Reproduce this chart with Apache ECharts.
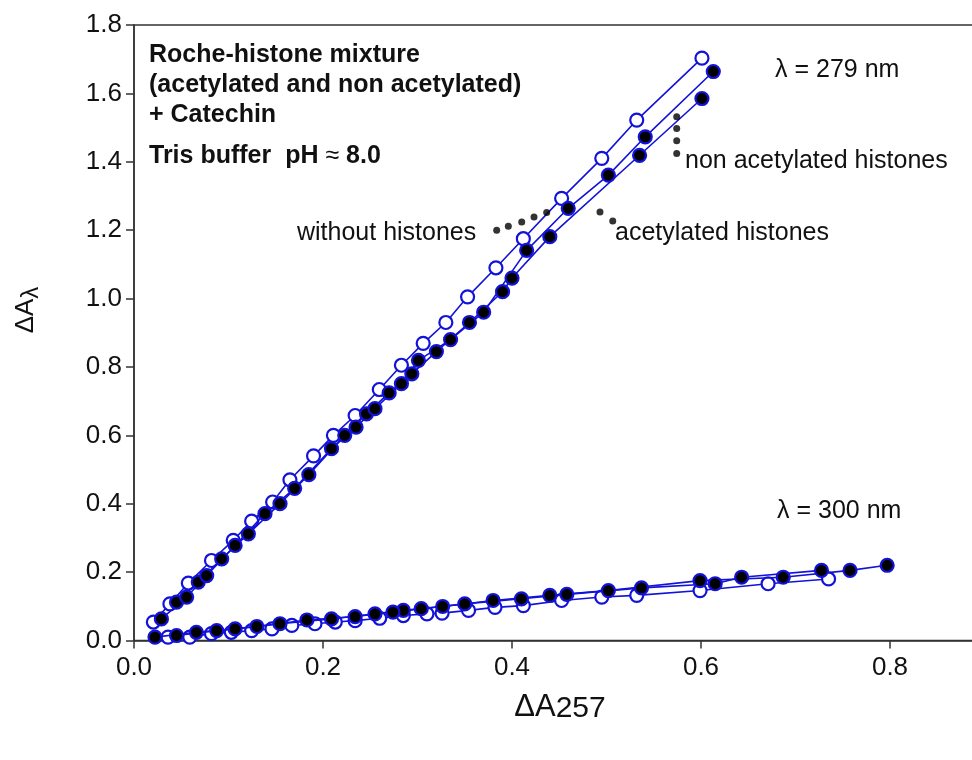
<!DOCTYPE html>
<html>
<head>
<meta charset="utf-8">
<script src="https://cdn.jsdelivr.net/npm/echarts@6/dist/echarts.min.js"></script>
<style>html,body{margin:0;padding:0;background:#fff;}#c{width:972px;height:760px;}</style>
</head>
<body>
<div id="c"></div>
<script>
// ---- data (x = ΔA257, y = ΔAλ) ----
var without279 = [[0.0205,0.054],[0.038,0.107],[0.0575,0.168],[0.082,0.234],[0.105,0.293],[0.1245,0.349],[0.1467,0.405],[0.165,0.47],[0.19,0.54],[0.211,0.600],[0.234,0.658],[0.2596,0.734],[0.283,0.805],[0.306,0.869],[0.33,0.93],[0.353,1.005],[0.383,1.09],[0.412,1.175],[0.4525,1.293],[0.495,1.41],[0.532,1.522],[0.601,1.703]];
var nonacet279 = [[0.029,0.063],[0.0557,0.127],[0.0769,0.19],[0.107,0.278],[0.1386,0.371],[0.17,0.445],[0.209,0.561],[0.235,0.624],[0.255,0.678],[0.283,0.751],[0.301,0.819],[0.335,0.88],[0.37,0.96],[0.4155,1.141],[0.4595,1.264],[0.502,1.361],[0.541,1.473],[0.613,1.664]];
var acet279 = [[0.045,0.112],[0.068,0.171],[0.0928,0.239],[0.121,0.312],[0.1545,0.40],[0.185,0.485],[0.223,0.600],[0.246,0.663],[0.270,0.724],[0.294,0.780],[0.32,0.845],[0.355,0.93],[0.39,1.02],[0.40,1.06],[0.440,1.181],[0.535,1.419],[0.601,1.585]];
var without300 = [[0.036,0.010],[0.059,0.010],[0.082,0.020],[0.103,0.024],[0.1245,0.029],[0.146,0.034],[0.167,0.044],[0.1915,0.049],[0.213,0.054],[0.234,0.058],[0.26,0.065],[0.285,0.073],[0.31,0.078],[0.326,0.080],[0.354,0.088],[0.382,0.097],[0.412,0.102],[0.4525,0.117],[0.495,0.127],[0.532,0.132],[0.599,0.146],[0.671,0.166],[0.735,0.18]];
var acet300 = [[0.0222,0.010],[0.066,0.024],[0.107,0.034],[0.1545,0.049],[0.209,0.063],[0.255,0.078],[0.285,0.088],[0.3266,0.0995],[0.380,0.117],[0.440,0.132],[0.502,0.146],[0.599,0.175],[0.687,0.185],[0.7577,0.205],[0.797,0.22]];
var nonacet300 = [[0.045,0.0146],[0.0875,0.029],[0.130,0.041],[0.183,0.060],[0.234,0.070],[0.274,0.083],[0.304,0.093],[0.350,0.107],[0.410,0.122],[0.458,0.135],[0.537,0.154],[0.615,0.166],[0.643,0.185],[0.7275,0.205]];
// leader dots for annotations
var leaderDots = [[0.3838,1.200],[0.3961,1.2116],[0.4103,1.224],[0.4233,1.2388],[0.4367,1.2517],
                  [0.4931,1.2534],[0.5066,1.2271],
                  [0.5743,1.5315],[0.5743,1.4975],[0.5743,1.4612],[0.5743,1.4243]];
var xTicks = [0, 0.2, 0.4, 0.6, 0.8];
var yTicks = [0, 0.2, 0.4, 0.6, 0.8, 1.0, 1.2, 1.4, 1.6, 1.8];
var titleLines = ['Roche-histone mixture', '(acetylated and non acetylated)', '+ Catechin'];
var bufferText = 'Tris buffer  pH';
var annotations = {
  l279: 'λ = 279 nm', l300: 'λ = 300 nm',
  nonacet: 'non acetylated histones', acet: 'acetylated histones', without: 'without histones'
};

var BLUE = '#1212d8';
var FONT = 'Liberation Sans, Arial, sans-serif';

function ser(data, filled) {
  return {
    type: 'line', data: data, symbol: 'circle', symbolSize: 13,
    lineStyle: { color: BLUE, width: 1.6 },
    itemStyle: { color: filled ? '#000' : '#fff', borderColor: BLUE, borderWidth: 2.2 },
    emphasis: { disabled: true }, animation: false, z: filled ? 3 : 2
  };
}

var chart = echarts.init(document.getElementById('c'), null, { renderer: 'canvas' });
var txt = { fontFamily: FONT, fontSize: 25, fill: '#111' };
chart.setOption({
  backgroundColor: '#fff',
  animation: false,
  grid: { left: 134, top: 25, width: 850.5, height: 615.5, outerBoundsMode: 'none', containLabel: false,
          show: true, borderColor: '#333', borderWidth: 1.5, backgroundColor: 'transparent' },
  xAxis: {
    type: 'value', min: 0, max: 0.9, interval: 0.2,
    axisLine: { lineStyle: { color: '#333', width: 1.5 } },
    axisTick: { length: 8, lineStyle: { color: '#333', width: 1.5 } },
    splitLine: { show: false },
    axisLabel: { fontFamily: FONT, fontSize: 26, color: '#111', margin: 14,
      formatter: function (v) { return xTicks.indexOf(Math.round(v*10)/10) >= 0 ? v.toFixed(1) : ''; } }
  },
  yAxis: {
    type: 'value', min: 0, max: 1.8, interval: 0.2,
    axisLine: { lineStyle: { color: '#333', width: 1.5 } },
    axisTick: { length: 8, lineStyle: { color: '#333', width: 1.5 } },
    splitLine: { show: false },
    axisLabel: { fontFamily: FONT, fontSize: 26, color: '#111', margin: 12,
      formatter: function (v) { return v.toFixed(1); } }
  },
  series: [
    ser(acet279, true), ser(nonacet279, true), ser(without279, false),
    ser(acet300, true), ser(nonacet300, true), ser(without300, false),
    { type: 'scatter', data: leaderDots, symbol: 'circle', symbolSize: 7,
      itemStyle: { color: '#000' }, silent: true, z: 4 }
  ],
  graphic: [
    { type: 'text', left: 149, top: 43, style: Object.assign({}, txt, { text: titleLines[0], fontWeight: 'bold' }) },
    { type: 'text', left: 149, top: 73, style: Object.assign({}, txt, { text: titleLines[1], fontWeight: 'bold' }) },
    { type: 'text', left: 149, top: 103, style: Object.assign({}, txt, { text: titleLines[2], fontWeight: 'bold' }) },
    { type: 'text', left: 149, top: 144, style: Object.assign({}, txt, {
        text: '{b|' + bufferText + '}{r| ≈ }{b|8.0}',
        rich: { b: { fontFamily: FONT, fontSize: 25, fontWeight: 'bold', fill: '#111' },
                r: { fontFamily: FONT, fontSize: 25, fill: '#111' } } }) },
    { type: 'text', left: 775, top: 58, style: Object.assign({}, txt, { text: annotations.l279 }) },
    { type: 'text', left: 685, top: 149, style: Object.assign({}, txt, { text: annotations.nonacet }) },
    { type: 'text', left: 615, top: 221, style: Object.assign({}, txt, { text: annotations.acet }) },
    { type: 'text', left: 297, top: 221, style: Object.assign({}, txt, { text: annotations.without }) },
    { type: 'text', left: 777, top: 499, style: Object.assign({}, txt, { text: annotations.l300 }) },
    // axis titles
    { type: 'text', x: 560, y: 692, style: {
        text: '{a|ΔA}{s|257}', textAlign: 'center', textVerticalAlign: 'top',
        rich: { a: { fontFamily: FONT, fontSize: 31, fill: '#111', verticalAlign: 'top', lineHeight: 32 },
                s: { fontFamily: FONT, fontSize: 30, fill: '#111', verticalAlign: 'bottom', lineHeight: 30, padding: [20,0,0,0] } } } },
    { type: 'text', x: 28, y: 310, rotation: Math.PI / 2, style: {
        text: '{a|ΔA}{s|λ}', textAlign: 'center', textVerticalAlign: 'middle',
        rich: { a: { fontFamily: FONT, fontSize: 26, fill: '#111', verticalAlign: 'top', lineHeight: 30 },
                s: { fontFamily: FONT, fontSize: 24, fill: '#111', verticalAlign: 'bottom', lineHeight: 24, padding: [12,0,0,0] } } } }
  ]
});
</script>
</body>
</html>
